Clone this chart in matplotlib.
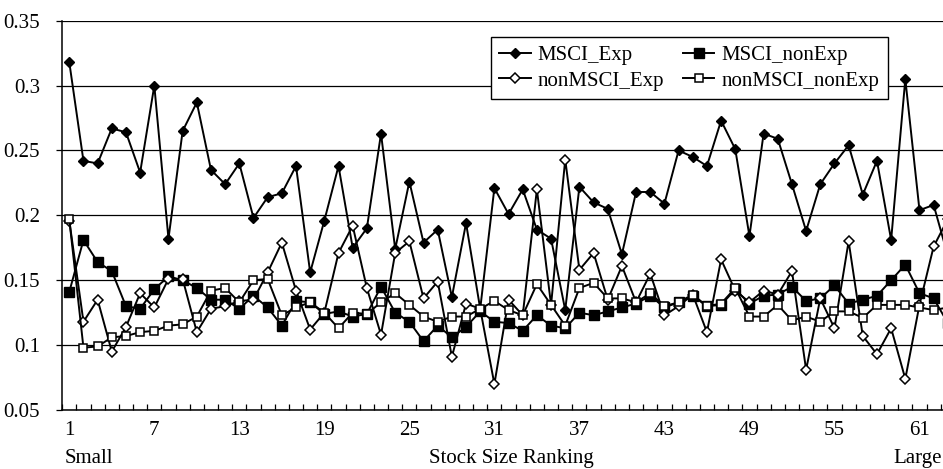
import numpy as np
import matplotlib
matplotlib.use("Agg")
import matplotlib.pyplot as plt

plt.rcParams['font.family'] = ['Liberation Serif', 'DejaVu Serif']

# values, ranking 1 (small) .. 63 (large)
msci_exp = [0.318, 0.242, 0.240, 0.267, 0.264, 0.233, 0.300, 0.182, 0.265, 0.287,
            0.235, 0.224, 0.240, 0.198, 0.214, 0.217, 0.238, 0.156, 0.196, 0.238,
            0.175, 0.190, 0.263, 0.174, 0.226, 0.179, 0.189, 0.137, 0.194, 0.128,
            0.221, 0.201, 0.220, 0.189, 0.182, 0.127, 0.222, 0.210, 0.205, 0.170,
            0.218, 0.218, 0.209, 0.250, 0.245, 0.238, 0.273, 0.251, 0.184, 0.263,
            0.259, 0.224, 0.188, 0.224, 0.240, 0.254, 0.216, 0.242, 0.181, 0.305,
            0.204, 0.208, 0.169]
msci_nonexp = [0.141, 0.181, 0.164, 0.157, 0.130, 0.128, 0.143, 0.153, 0.150, 0.144,
               0.135, 0.135, 0.128, 0.138, 0.129, 0.115, 0.134, 0.133, 0.124, 0.126,
               0.122, 0.124, 0.145, 0.125, 0.118, 0.103, 0.115, 0.106, 0.114, 0.126,
               0.118, 0.117, 0.111, 0.123, 0.115, 0.113, 0.125, 0.123, 0.126, 0.129,
               0.132, 0.138, 0.129, 0.133, 0.138, 0.130, 0.131, 0.143, 0.132, 0.138,
               0.139, 0.145, 0.134, 0.136, 0.146, 0.132, 0.135, 0.138, 0.150, 0.162,
               0.140, 0.136, 0.117]
nonmsci_exp = [0.196, 0.118, 0.135, 0.095, 0.114, 0.140, 0.129, 0.151, 0.151, 0.110,
               0.128, 0.130, 0.134, 0.135, 0.156, 0.179, 0.142, 0.112, 0.125, 0.171,
               0.192, 0.144, 0.108, 0.171, 0.180, 0.136, 0.149, 0.091, 0.132, 0.128,
               0.070, 0.135, 0.123, 0.220, 0.131, 0.243, 0.158, 0.171, 0.135, 0.161,
               0.133, 0.155, 0.123, 0.130, 0.139, 0.110, 0.166, 0.142, 0.133, 0.142,
               0.139, 0.157, 0.081, 0.136, 0.113, 0.180, 0.107, 0.093, 0.113, 0.074,
               0.131, 0.176, 0.197]
nonmsci_nonexp = [0.197, 0.098, 0.099, 0.106, 0.107, 0.110, 0.111, 0.115, 0.116, 0.122,
                  0.142, 0.144, 0.133, 0.150, 0.151, 0.123, 0.129, 0.133, 0.125, 0.113,
                  0.125, 0.124, 0.133, 0.140, 0.131, 0.122, 0.118, 0.122, 0.122, 0.128,
                  0.134, 0.127, 0.123, 0.147, 0.131, 0.115, 0.144, 0.148, 0.136, 0.136,
                  0.133, 0.140, 0.130, 0.133, 0.139, 0.130, 0.132, 0.144, 0.122, 0.122,
                  0.131, 0.119, 0.122, 0.118, 0.126, 0.126, 0.121, 0.131, 0.131, 0.131,
                  0.129, 0.127, 0.129]
rank = np.arange(1, len(msci_exp) + 1)
tick_labels = [1, 7, 13, 19, 25, 31, 37, 43, 49, 55, 61]
y_ticks = [0.05, 0.1, 0.15, 0.2, 0.25, 0.3, 0.35]

W, H = 943, 469
fig = plt.figure(figsize=(W / 100, H / 100), dpi=100)
# the source picture is cut off on the right, so the axes run past the figure edge
left, right, top, bottom = 62.2, 954.9, 20.7, 410.0
ax = fig.add_axes([left / W, 1 - bottom / H, (right - left) / W, (bottom - top) / H])

lw = 1.4
ax.plot(rank, msci_exp, color='k', lw=lw, marker='D', ms=5.6, mfc='k', mec='k',
        label='MSCI_Exp', zorder=3)
ax.plot(rank, msci_nonexp, color='k', lw=lw, marker='s', ms=6.8, mfc='k', mec='k',
        label='MSCI_nonExp', zorder=3)
ax.plot(rank, nonmsci_exp, color='k', lw=lw, marker='D', ms=4.6, mfc='w', mec='k',
        mew=1.1, label='nonMSCI_Exp', zorder=3)
ax.plot(rank, nonmsci_nonexp, color='k', lw=lw, marker='s', ms=5.4, mfc='w', mec='k',
        mew=1.1, label='nonMSCI_nonExp', zorder=3)

ax.set_xlim(0.5, len(rank) + 0.5)
ax.set_ylim(0.05, 0.35)
ax.set_yticks(y_ticks)
ax.set_yticklabels(['%g' % v for v in y_ticks])
ax.yaxis.grid(True, color='k', lw=0.9)
ax.set_axisbelow(True)

ax.set_xticks(tick_labels)
ax.set_xticklabels([str(t) for t in tick_labels])
ax.set_xticks(np.arange(0.5, len(rank) + 1), minor=True)
ax.tick_params(axis='x', which='major', length=0, pad=8, labelsize=15)
ax.tick_params(axis='x', which='minor', direction='in', length=4, width=0.9)
ax.tick_params(axis='y', direction='out', length=4, width=0.9, pad=12, labelsize=15)

for s in ['top', 'right']:
    ax.spines[s].set_visible(False)
for s in ['left', 'bottom']:
    ax.spines[s].set_linewidth(1.1)

h, l = ax.get_legend_handles_labels()
order = [0, 2, 1, 3]
leg = ax.legend([h[i] for i in order], [l[i] for i in order], ncol=2,
                loc='upper left', bbox_to_anchor=(491 / W, 1 - 37 / H),
                bbox_transform=fig.transFigure, borderaxespad=0,
                fontsize=15, frameon=True, fancybox=False, framealpha=1,
                edgecolor='k', handlelength=1.5, handletextpad=0.35,
                columnspacing=0.9, labelspacing=0.3, borderpad=0.4)
leg.get_frame().set_linewidth(1.0)

fig.text(65 / W, 1 - 458 / H, 'Small', fontsize=15, ha='left', va='center')
fig.text(511 / W, 1 - 458 / H, 'Stock Size Ranking', fontsize=15, ha='center', va='center')
fig.text(942 / W, 1 - 458 / H, 'Large', fontsize=15, ha='right', va='center')

fig.savefig('out.png', dpi=100)
